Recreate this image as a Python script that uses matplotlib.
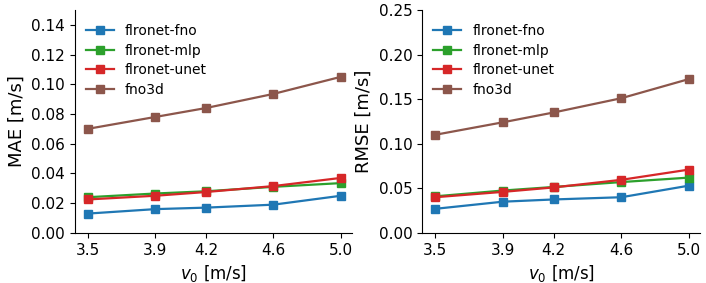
import matplotlib
matplotlib.use("Agg")
import matplotlib.pyplot as plt

v0 = [3.5, 3.9, 4.2, 4.6, 5.0]
tick_labels = ["3.5", "3.9", "4.2", "4.6", "5.0"]
models = ["flronet-fno", "flronet-mlp", "flronet-unet", "fno3d"]
colors = ["#1f77b4", "#2ca02c", "#d62728", "#8c564b"]

mae_fno = [0.013, 0.016, 0.017, 0.019, 0.025]
mae_mlp = [0.024, 0.0265, 0.028, 0.031, 0.0335]
mae_unet = [0.0225, 0.025, 0.0275, 0.0315, 0.037]
mae_fno3d = [0.070, 0.078, 0.084, 0.0935, 0.105]

rmse_fno = [0.027, 0.035, 0.0375, 0.040, 0.053]
rmse_mlp = [0.041, 0.0475, 0.0515, 0.057, 0.062]
rmse_unet = [0.040, 0.046, 0.051, 0.0595, 0.071]
rmse_fno3d = [0.110, 0.124, 0.135, 0.151, 0.1725]

fig = plt.figure(figsize=(7.06, 2.83), dpi=100)
ax1 = fig.add_axes([0.106, 0.177, 0.393, 0.788])
ax2 = fig.add_axes([0.598, 0.177, 0.394, 0.788])

for ax, series, ylabel, ylim, yticks in [
    (ax1, [mae_fno, mae_mlp, mae_unet, mae_fno3d], "MAE [m/s]", (0, 0.15),
     [0.0, 0.02, 0.04, 0.06, 0.08, 0.10, 0.12, 0.14]),
    (ax2, [rmse_fno, rmse_mlp, rmse_unet, rmse_fno3d], "RMSE [m/s]", (0, 0.25),
     [0.0, 0.05, 0.10, 0.15, 0.20, 0.25]),
]:
    for vals, name, c in zip(series, models, colors):
        ax.plot(v0, vals, marker="s", markersize=5.5, linewidth=1.6, color=c, label=name)
    ax.set_ylim(*ylim)
    ax.set_yticks(yticks)
    ax.set_yticklabels([f"{t:.2f}" for t in yticks])
    ax.set_xticks(v0)
    ax.set_xticklabels(tick_labels)
    ax.set_xlim(3.423, 5.067)
    ax.set_ylabel(ylabel, fontsize=13)
    ax.set_xlabel(r"$v_0$ [m/s]", fontsize=12)
    ax.tick_params(labelsize=11)
    ax.spines["top"].set_visible(False)
    ax.spines["right"].set_visible(False)
    ax.legend(loc="upper left", bbox_to_anchor=(0.0, 0.9865), frameon=False,
              fontsize=10, handlelength=2.0, borderaxespad=0.4, labelspacing=0.4)

fig.savefig("out.png", dpi=100)
